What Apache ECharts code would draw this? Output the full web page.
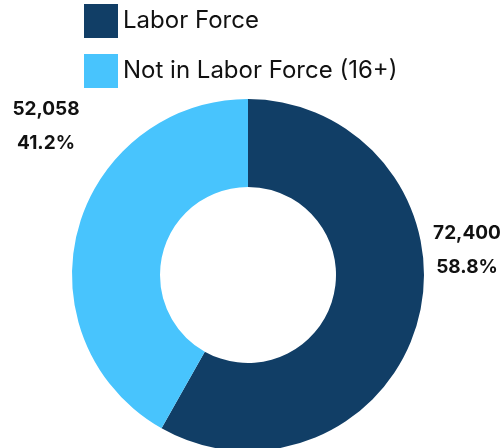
<!DOCTYPE html>
<html>
<head>
<meta charset="utf-8">
<script src="https://cdn.jsdelivr.net/npm/echarts@6/dist/echarts.min.js"></script>
<style>
  html, body { margin: 0; padding: 0; background: #fff; }
  #chart { width: 503px; height: 448px; }
</style>
</head>
<body>
<div id="chart"></div>
<script>
  // data
  var categories = ['Labor Force', 'Not in Labor Force (16+)'];
  var values = [72400, 52058];
  var pctLabels = ['58.8%', '41.2%'];
  var colors = ['#113e66', '#48c4fd'];

  var myChart = echarts.init(document.getElementById('chart'));

  // label spots (outside, no leader lines)
  var labelSpots = [[467, 250], [46, 126]];

  var option = {
    animation: false,
    color: colors,
    legend: {
      orient: 'vertical',
      left: 84,
      top: 4,
      padding: 0,
      itemWidth: 34,
      itemHeight: 34,
      itemGap: 16,
      icon: 'rect',
      textStyle: {
        fontFamily: 'Inter',
        fontSize: 24,
        color: '#111',
        padding: [0, 0, 0, 0]
      },
      data: categories
    },
    series: [{
      type: 'pie',
      center: [248, 275],
      radius: [88, 176],
      startAngle: 90,
      clockwise: true,
      avoidLabelOverlap: false,
      label: {
        show: true,
        position: 'outside',
        fontFamily: 'Inter',
        fontWeight: 'bold',
        fontSize: 19,
        color: '#111',
        lineHeight: 34,
        align: 'center',
        formatter: function (p) {
          return values[p.dataIndex].toLocaleString('en-US') + '\n' + pctLabels[p.dataIndex];
        }
      },
      labelLine: { show: false },
      labelLayout: function (p) {
        var s = labelSpots[p.dataIndex];
        return { x: s[0], y: s[1], align: 'center', verticalAlign: 'middle' };
      },
      data: categories.map(function (c, i) {
        return { name: c, value: values[i] };
      })
    }]
  };
  myChart.setOption(option);
</script>
</body>
</html>
